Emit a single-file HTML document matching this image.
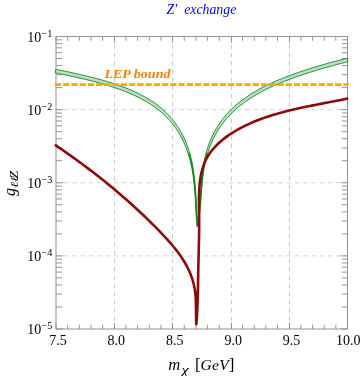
<!DOCTYPE html>
<html><head><meta charset="utf-8"><title>Z' exchange</title>
<style>
html,body{margin:0;padding:0;background:#fff;}
body{width:360px;height:376px;overflow:hidden;font-family:"Liberation Serif",serif;}
svg{display:block;will-change:transform;transform:translateZ(0);}
</style></head><body>
<svg width="360" height="376" viewBox="0 0 360 376">
<rect width="360" height="376" fill="#fff"/>
<g stroke="#d2d2d2" stroke-width="1" stroke-dasharray="4.12 4.12" fill="none">
<path d="M114.50 36.50V329.00" stroke="#bebebe" stroke-width="0.85"/>
<path d="M172.50 36.50V329.00" stroke="#bebebe" stroke-width="0.85"/>
<path d="M231.50 36.50V329.00" stroke="#bebebe" stroke-width="0.85"/>
<path d="M289.50 36.50V329.00" stroke="#bebebe" stroke-width="0.85"/>
<path d="M56.00 109.62H347.50"/>
<path d="M56.00 182.75H347.50"/>
<path d="M56.00 255.88H347.50"/>
</g>
<path d="M56.00 329.00v-6.20M56.00 36.50v6.20M67.66 329.00v-4.30M67.66 36.50v4.30M79.32 329.00v-4.30M79.32 36.50v4.30M90.98 329.00v-4.30M90.98 36.50v4.30M102.64 329.00v-4.30M102.64 36.50v4.30M114.50 329.00v-6.20M114.50 36.50v6.20M125.96 329.00v-4.30M125.96 36.50v4.30M137.62 329.00v-4.30M137.62 36.50v4.30M149.28 329.00v-4.30M149.28 36.50v4.30M160.94 329.00v-4.30M160.94 36.50v4.30M172.50 329.00v-6.20M172.50 36.50v6.20M184.26 329.00v-4.30M184.26 36.50v4.30M195.92 329.00v-4.30M195.92 36.50v4.30M207.58 329.00v-4.30M207.58 36.50v4.30M219.24 329.00v-4.30M219.24 36.50v4.30M231.50 329.00v-6.20M231.50 36.50v6.20M242.56 329.00v-4.30M242.56 36.50v4.30M254.22 329.00v-4.30M254.22 36.50v4.30M265.88 329.00v-4.30M265.88 36.50v4.30M277.54 329.00v-4.30M277.54 36.50v4.30M289.50 329.00v-6.20M289.50 36.50v6.20M300.86 329.00v-4.30M300.86 36.50v4.30M312.52 329.00v-4.30M312.52 36.50v4.30M324.18 329.00v-4.30M324.18 36.50v4.30M335.84 329.00v-4.30M335.84 36.50v4.30M347.50 329.00v-6.20M347.50 36.50v6.20M56.00 36.50h7.20M347.50 36.50h-6.80M56.00 87.61h6.10M347.50 87.61h-5.60M56.00 74.74h6.10M347.50 74.74h-5.60M56.00 65.60h6.10M347.50 65.60h-5.60M56.00 58.51h6.10M347.50 58.51h-5.60M56.00 52.72h6.10M347.50 52.72h-5.60M56.00 47.83h6.10M347.50 47.83h-5.60M56.00 43.59h6.10M347.50 43.59h-5.60M56.00 39.85h6.10M347.50 39.85h-5.60M56.00 109.62h7.20M347.50 109.62h-6.80M56.00 160.74h6.10M347.50 160.74h-5.60M56.00 147.86h6.10M347.50 147.86h-5.60M56.00 138.72h6.10M347.50 138.72h-5.60M56.00 131.64h6.10M347.50 131.64h-5.60M56.00 125.85h6.10M347.50 125.85h-5.60M56.00 120.95h6.10M347.50 120.95h-5.60M56.00 116.71h6.10M347.50 116.71h-5.60M56.00 112.97h6.10M347.50 112.97h-5.60M56.00 182.75h7.20M347.50 182.75h-6.80M56.00 233.86h6.10M347.50 233.86h-5.60M56.00 220.99h6.10M347.50 220.99h-5.60M56.00 211.85h6.10M347.50 211.85h-5.60M56.00 204.76h6.10M347.50 204.76h-5.60M56.00 198.97h6.10M347.50 198.97h-5.60M56.00 194.08h6.10M347.50 194.08h-5.60M56.00 189.84h6.10M347.50 189.84h-5.60M56.00 186.10h6.10M347.50 186.10h-5.60M56.00 255.88h7.20M347.50 255.88h-6.80M56.00 306.99h6.10M347.50 306.99h-5.60M56.00 294.11h6.10M347.50 294.11h-5.60M56.00 284.97h6.10M347.50 284.97h-5.60M56.00 277.89h6.10M347.50 277.89h-5.60M56.00 272.10h6.10M347.50 272.10h-5.60M56.00 267.20h6.10M347.50 267.20h-5.60M56.00 262.96h6.10M347.50 262.96h-5.60M56.00 259.22h6.10M347.50 259.22h-5.60M56.00 329.00h7.20M347.50 329.00h-6.80" stroke="#828282" stroke-width="0.85" fill="none"/>
<rect x="56.00" y="36.50" width="291.50" height="292.50" fill="none" stroke="#949494" stroke-width="1"/>
<path d="M55.87 69.28C56.44 69.40 58.14 69.76 59.26 70.00C60.39 70.25 61.52 70.49 62.65 70.73C63.78 70.97 64.90 71.20 66.03 71.45C67.16 71.69 68.28 71.93 69.40 72.17C70.53 72.41 71.65 72.65 72.77 72.90C73.90 73.14 75.02 73.39 76.14 73.64C77.26 73.89 78.38 74.14 79.50 74.39C80.61 74.65 81.73 74.90 82.85 75.16C83.97 75.42 85.08 75.68 86.20 75.95C87.31 76.21 88.43 76.48 89.54 76.76C90.66 77.03 91.77 77.31 92.88 77.59C93.99 77.87 95.10 78.16 96.21 78.45C97.32 78.75 98.43 79.04 99.54 79.35C100.65 79.65 101.76 79.96 102.87 80.28C103.97 80.59 105.08 80.91 106.18 81.24C107.29 81.57 108.39 81.91 109.50 82.25C110.60 82.59 111.70 82.94 112.81 83.30C113.91 83.66 115.01 84.02 116.11 84.40C117.21 84.77 118.31 85.15 119.40 85.55C120.50 85.94 121.60 86.34 122.69 86.75C123.78 87.16 124.87 87.58 125.95 88.01C127.04 88.43 128.12 88.87 129.20 89.32C130.27 89.77 131.34 90.23 132.41 90.70C133.47 91.17 134.53 91.65 135.59 92.15C136.64 92.64 137.69 93.14 138.73 93.66C139.77 94.18 140.80 94.71 141.83 95.25C142.85 95.79 143.87 96.34 144.87 96.91C145.88 97.47 146.88 98.05 147.86 98.65C148.85 99.24 149.83 99.85 150.80 100.47C151.76 101.09 152.72 101.72 153.66 102.37C154.61 103.02 155.54 103.69 156.46 104.37C157.38 105.04 158.29 105.74 159.18 106.45C160.07 107.16 160.95 107.88 161.82 108.62C162.69 109.37 163.54 110.12 164.37 110.90C165.21 111.67 166.03 112.46 166.84 113.27C167.64 114.08 168.43 114.91 169.20 115.75C169.97 116.59 170.73 117.44 171.47 118.31C172.21 119.18 172.93 120.07 173.63 120.97C174.34 121.87 175.03 122.79 175.70 123.72C176.37 124.64 177.02 125.59 177.65 126.54C178.28 127.49 178.90 128.46 179.50 129.44C180.09 130.42 180.67 131.41 181.23 132.41C181.79 133.41 182.32 134.42 182.84 135.44C183.36 136.47 183.86 137.50 184.34 138.54C184.82 139.58 185.28 140.63 185.73 141.69C186.17 142.75 186.59 143.82 187.00 144.90C187.40 145.97 187.79 147.05 188.16 148.14C188.53 149.23 188.88 150.33 189.22 151.44C189.56 152.54 189.88 153.65 190.18 154.76C190.49 155.88 190.78 157.00 191.05 158.12C191.33 159.25 191.59 160.37 191.83 161.51C192.08 162.64 192.31 163.77 192.52 164.91C192.74 166.05 192.94 167.19 193.14 168.34C193.33 169.48 193.51 170.63 193.67 171.78C193.84 172.92 194.00 174.07 194.14 175.23C194.29 176.38 194.43 177.53 194.56 178.69C194.68 179.84 194.80 181.00 194.91 182.16C195.02 183.31 195.13 184.47 195.22 185.63C195.32 186.79 195.41 187.95 195.50 189.10C195.58 190.26 195.66 191.42 195.74 192.58C195.81 193.74 195.88 194.90 195.95 196.06C196.02 197.21 196.09 198.37 196.15 199.53C196.21 200.68 196.28 201.84 196.34 202.99C196.40 204.15 196.46 205.30 196.52 206.45C196.58 207.60 196.64 208.75 196.71 209.89C196.77 211.04 196.84 212.18 196.91 213.32C196.97 214.46 197.04 215.60 197.12 216.74C197.19 217.87 197.27 219.01 197.36 220.14C197.44 221.27 197.58 222.95 197.63 223.51L196.99 227.01C196.94 226.45 196.80 224.77 196.72 223.64C196.63 222.51 196.55 221.37 196.48 220.24C196.40 219.10 196.33 217.96 196.27 216.82C196.20 215.68 196.13 214.54 196.07 213.39C196.00 212.25 195.94 211.10 195.88 209.95C195.82 208.80 195.76 207.65 195.70 206.49C195.64 205.34 195.57 204.18 195.51 203.03C195.45 201.87 195.38 200.71 195.31 199.56C195.24 198.40 195.17 197.24 195.10 196.08C195.02 194.92 194.94 193.76 194.86 192.60C194.77 191.45 194.68 190.29 194.58 189.13C194.49 187.97 194.38 186.81 194.27 185.66C194.16 184.50 194.04 183.34 193.92 182.19C193.79 181.03 193.65 179.88 193.50 178.73C193.36 177.57 193.20 176.42 193.03 175.28C192.87 174.13 192.69 172.98 192.50 171.84C192.30 170.69 192.10 169.55 191.88 168.41C191.67 167.27 191.44 166.14 191.19 165.01C190.95 163.87 190.69 162.75 190.41 161.62C190.14 160.50 189.85 159.38 189.54 158.26C189.24 157.15 188.92 156.04 188.58 154.94C188.24 153.83 187.89 152.73 187.52 151.64C187.15 150.55 186.76 149.47 186.36 148.40C185.95 147.32 185.53 146.25 185.09 145.19C184.64 144.13 184.18 143.08 183.70 142.04C183.22 141.00 182.72 139.97 182.20 138.94C181.68 137.92 181.15 136.91 180.59 135.91C180.03 134.91 179.45 133.92 178.86 132.94C178.26 131.96 177.64 130.99 177.01 130.04C176.38 129.09 175.73 128.14 175.06 127.22C174.39 126.29 173.70 125.37 172.99 124.47C172.29 123.57 171.57 122.68 170.83 121.81C170.09 120.94 169.33 120.09 168.56 119.25C167.79 118.41 167.00 117.58 166.20 116.77C165.39 115.96 164.57 115.17 163.73 114.40C162.90 113.62 162.05 112.87 161.18 112.12C160.31 111.38 159.43 110.66 158.54 109.95C157.65 109.24 156.74 108.54 155.82 107.87C154.90 107.19 153.97 106.52 153.02 105.87C152.08 105.22 151.12 104.59 150.16 103.97C149.19 103.35 148.21 102.74 147.22 102.15C146.24 101.55 145.24 100.97 144.23 100.41C143.23 99.84 142.21 99.29 141.19 98.75C140.16 98.21 139.13 97.68 138.09 97.16C137.05 96.64 136.00 96.14 134.95 95.65C133.89 95.15 132.83 94.67 131.77 94.20C130.70 93.73 129.63 93.27 128.56 92.82C127.48 92.37 126.40 91.93 125.31 91.51C124.23 91.08 123.14 90.66 122.05 90.25C120.96 89.84 119.86 89.44 118.76 89.05C117.67 88.65 116.57 88.27 115.47 87.90C114.37 87.52 113.27 87.16 112.17 86.80C111.06 86.44 109.96 86.09 108.86 85.75C107.75 85.41 106.65 85.07 105.54 84.74C104.44 84.41 103.33 84.09 102.23 83.78C101.12 83.46 100.01 83.15 98.90 82.85C97.79 82.54 96.68 82.25 95.57 81.95C94.46 81.66 93.35 81.37 92.24 81.09C91.13 80.81 90.02 80.53 88.90 80.26C87.79 79.98 86.67 79.71 85.56 79.45C84.44 79.18 83.33 78.92 82.21 78.66C81.09 78.40 79.97 78.15 78.86 77.89C77.74 77.64 76.62 77.39 75.50 77.14C74.38 76.89 73.26 76.64 72.13 76.40C71.01 76.15 69.89 75.91 68.76 75.67C67.64 75.43 66.52 75.19 65.39 74.95C64.26 74.70 63.14 74.47 62.01 74.23C60.88 73.99 59.75 73.75 58.62 73.50C57.50 73.26 55.80 72.90 55.23 72.78Z" fill="#bae2c0"/>
<path d="M197.09 223.55C197.20 222.95 197.53 221.18 197.73 219.99C197.93 218.80 198.11 217.61 198.28 216.42C198.45 215.23 198.61 214.03 198.76 212.83C198.91 211.64 199.04 210.44 199.17 209.23C199.30 208.03 199.42 206.83 199.53 205.62C199.65 204.42 199.75 203.21 199.85 202.01C199.95 200.80 200.05 199.59 200.14 198.38C200.23 197.17 200.32 195.96 200.41 194.75C200.50 193.54 200.59 192.33 200.68 191.12C200.76 189.91 200.85 188.70 200.95 187.49C201.04 186.29 201.13 185.08 201.23 183.87C201.33 182.66 201.43 181.45 201.55 180.24C201.66 179.04 201.77 177.83 201.90 176.63C202.03 175.43 202.16 174.22 202.31 173.02C202.45 171.82 202.61 170.62 202.77 169.43C202.94 168.23 203.12 167.04 203.32 165.84C203.51 164.65 203.72 163.46 203.95 162.28C204.17 161.09 204.41 159.91 204.67 158.73C204.93 157.55 205.21 156.37 205.51 155.20C205.80 154.03 206.11 152.86 206.45 151.70C206.78 150.54 207.13 149.38 207.50 148.23C207.87 147.08 208.26 145.94 208.67 144.80C209.08 143.66 209.50 142.53 209.95 141.41C210.40 140.29 210.87 139.18 211.36 138.07C211.85 136.97 212.36 135.87 212.89 134.79C213.43 133.70 213.98 132.62 214.56 131.56C215.13 130.49 215.73 129.44 216.35 128.40C216.97 127.36 217.61 126.32 218.27 125.31C218.93 124.29 219.61 123.28 220.31 122.29C221.01 121.30 221.73 120.32 222.47 119.36C223.21 118.39 223.97 117.44 224.74 116.51C225.52 115.58 226.31 114.66 227.11 113.75C227.92 112.85 228.75 111.96 229.58 111.10C230.42 110.23 231.28 109.37 232.14 108.54C233.01 107.71 233.89 106.89 234.79 106.09C235.68 105.29 236.59 104.52 237.51 103.75C238.43 102.99 239.37 102.24 240.31 101.51C241.26 100.78 242.21 100.06 243.18 99.35C244.15 98.65 245.13 97.95 246.12 97.27C247.10 96.59 248.10 95.91 249.11 95.25C250.12 94.58 251.14 93.93 252.17 93.29C253.19 92.64 254.23 92.01 255.27 91.39C256.32 90.77 257.37 90.16 258.43 89.57C259.49 88.97 260.55 88.39 261.63 87.82C262.70 87.25 263.78 86.69 264.87 86.15C265.95 85.60 267.05 85.07 268.14 84.54C269.24 84.02 270.34 83.50 271.45 83.00C272.56 82.50 273.67 82.00 274.78 81.52C275.90 81.03 277.02 80.56 278.14 80.09C279.26 79.62 280.39 79.16 281.52 78.71C282.64 78.26 283.78 77.82 284.91 77.38C286.04 76.94 287.17 76.51 288.31 76.08C289.44 75.66 290.58 75.23 291.71 74.82C292.85 74.40 293.99 74.00 295.12 73.59C296.26 73.19 297.40 72.79 298.54 72.39C299.68 72.00 300.83 71.61 301.97 71.23C303.11 70.84 304.26 70.46 305.40 70.09C306.55 69.71 307.69 69.34 308.84 68.98C309.99 68.61 311.14 68.25 312.29 67.89C313.44 67.54 314.59 67.18 315.74 66.83C316.90 66.49 318.05 66.14 319.21 65.80C320.36 65.46 321.52 65.12 322.68 64.79C323.84 64.45 325.00 64.12 326.16 63.79C327.32 63.47 328.48 63.14 329.65 62.82C330.81 62.50 331.98 62.18 333.15 61.87C334.31 61.55 335.48 61.24 336.65 60.93C337.82 60.62 339.00 60.32 340.17 60.01C341.34 59.71 342.52 59.41 343.70 59.11C344.88 58.81 346.65 58.36 347.24 58.22L347.88 61.72C347.29 61.86 345.52 62.31 344.34 62.61C343.16 62.91 341.98 63.21 340.81 63.51C339.64 63.82 338.46 64.12 337.29 64.43C336.12 64.74 334.95 65.05 333.79 65.37C332.62 65.68 331.45 66.00 330.29 66.32C329.12 66.64 327.96 66.97 326.80 67.29C325.64 67.62 324.48 67.95 323.32 68.29C322.16 68.62 321.00 68.96 319.85 69.30C318.69 69.64 317.54 69.99 316.38 70.33C315.23 70.68 314.08 71.04 312.93 71.39C311.78 71.75 310.63 72.11 309.48 72.48C308.33 72.84 307.19 73.21 306.04 73.59C304.90 73.96 303.75 74.34 302.61 74.73C301.47 75.11 300.32 75.50 299.18 75.89C298.04 76.29 296.90 76.69 295.76 77.09C294.63 77.50 293.49 77.90 292.35 78.32C291.22 78.73 290.08 79.16 288.95 79.58C287.81 80.01 286.68 80.44 285.55 80.88C284.42 81.32 283.28 81.76 282.16 82.21C281.03 82.66 279.90 83.12 278.78 83.59C277.66 84.06 276.54 84.53 275.42 85.02C274.31 85.50 273.20 86.00 272.09 86.50C270.98 87.00 269.88 87.52 268.78 88.04C267.69 88.57 266.59 89.10 265.51 89.65C264.42 90.19 263.34 90.75 262.27 91.32C261.19 91.89 260.13 92.47 259.07 93.07C258.01 93.66 256.96 94.27 255.91 94.89C254.87 95.51 253.83 96.14 252.81 96.79C251.78 97.43 250.76 98.08 249.75 98.75C248.74 99.41 247.74 100.09 246.76 100.77C245.77 101.45 244.79 102.15 243.82 102.85C242.85 103.56 241.90 104.28 240.95 105.01C240.01 105.74 239.07 106.49 238.15 107.25C237.23 108.02 236.32 108.79 235.43 109.59C234.53 110.39 233.65 111.21 232.78 112.04C231.92 112.87 231.06 113.73 230.22 114.60C229.39 115.46 228.56 116.35 227.75 117.25C226.95 118.16 226.16 119.08 225.38 120.01C224.61 120.94 223.85 121.89 223.11 122.86C222.37 123.82 221.65 124.80 220.95 125.79C220.25 126.78 219.57 127.79 218.91 128.81C218.25 129.82 217.61 130.86 216.99 131.90C216.37 132.94 215.77 133.99 215.20 135.06C214.62 136.12 214.07 137.20 213.53 138.29C213.00 139.37 212.49 140.47 212.00 141.57C211.51 142.68 211.04 143.79 210.59 144.91C210.14 146.03 209.72 147.16 209.31 148.30C208.90 149.44 208.51 150.58 208.14 151.73C207.77 152.88 207.42 154.04 207.09 155.20C206.75 156.36 206.44 157.53 206.15 158.70C205.85 159.87 205.57 161.05 205.31 162.23C205.05 163.41 204.81 164.59 204.59 165.78C204.36 166.96 204.15 168.15 203.96 169.34C203.76 170.54 203.58 171.73 203.41 172.93C203.25 174.12 203.09 175.32 202.95 176.52C202.80 177.72 202.67 178.93 202.54 180.13C202.41 181.33 202.30 182.54 202.19 183.74C202.07 184.95 201.97 186.16 201.87 187.37C201.77 188.58 201.68 189.79 201.59 190.99C201.49 192.20 201.40 193.41 201.32 194.62C201.23 195.83 201.14 197.04 201.05 198.25C200.96 199.46 200.87 200.67 200.78 201.88C200.69 203.09 200.59 204.30 200.49 205.51C200.39 206.71 200.29 207.92 200.17 209.12C200.06 210.33 199.94 211.53 199.81 212.73C199.68 213.94 199.55 215.14 199.40 216.33C199.25 217.53 199.09 218.73 198.92 219.92C198.75 221.11 198.57 222.30 198.37 223.49C198.17 224.68 197.84 226.45 197.73 227.05Z" fill="#bae2c0"/>
<path d="M55.87 69.28C56.44 69.40 58.14 69.76 59.26 70.00C60.39 70.25 61.52 70.49 62.65 70.73C63.78 70.97 64.90 71.20 66.03 71.45C67.16 71.69 68.28 71.93 69.40 72.17C70.53 72.41 71.65 72.65 72.77 72.90C73.90 73.14 75.02 73.39 76.14 73.64C77.26 73.89 78.38 74.14 79.50 74.39C80.61 74.65 81.73 74.90 82.85 75.16C83.97 75.42 85.08 75.68 86.20 75.95C87.31 76.21 88.43 76.48 89.54 76.76C90.66 77.03 91.77 77.31 92.88 77.59C93.99 77.87 95.10 78.16 96.21 78.45C97.32 78.75 98.43 79.04 99.54 79.35C100.65 79.65 101.76 79.96 102.87 80.28C103.97 80.59 105.08 80.91 106.18 81.24C107.29 81.57 108.39 81.91 109.50 82.25C110.60 82.59 111.70 82.94 112.81 83.30C113.91 83.66 115.01 84.02 116.11 84.40C117.21 84.77 118.31 85.15 119.40 85.55C120.50 85.94 121.60 86.34 122.69 86.75C123.78 87.16 124.87 87.58 125.95 88.01C127.04 88.43 128.12 88.87 129.20 89.32C130.27 89.77 131.34 90.23 132.41 90.70C133.47 91.17 134.53 91.65 135.59 92.15C136.64 92.64 137.69 93.14 138.73 93.66C139.77 94.18 140.80 94.71 141.83 95.25C142.85 95.79 143.87 96.34 144.87 96.91C145.88 97.47 146.88 98.05 147.86 98.65C148.85 99.24 149.83 99.85 150.80 100.47C151.76 101.09 152.72 101.72 153.66 102.37C154.61 103.02 155.54 103.69 156.46 104.37C157.38 105.04 158.29 105.74 159.18 106.45C160.07 107.16 160.95 107.88 161.82 108.62C162.69 109.37 163.54 110.12 164.37 110.90C165.21 111.67 166.03 112.46 166.84 113.27C167.64 114.08 168.43 114.91 169.20 115.75C169.97 116.59 170.73 117.44 171.47 118.31C172.21 119.18 172.93 120.07 173.63 120.97C174.34 121.87 175.03 122.79 175.70 123.72C176.37 124.64 177.02 125.59 177.65 126.54C178.28 127.49 178.90 128.46 179.50 129.44C180.09 130.42 180.67 131.41 181.23 132.41C181.79 133.41 182.32 134.42 182.84 135.44C183.36 136.47 183.86 137.50 184.34 138.54C184.82 139.58 185.28 140.63 185.73 141.69C186.17 142.75 186.59 143.82 187.00 144.90C187.40 145.97 187.79 147.05 188.16 148.14C188.53 149.23 188.88 150.33 189.22 151.44C189.56 152.54 189.88 153.65 190.18 154.76C190.49 155.88 190.78 157.00 191.05 158.12C191.33 159.25 191.59 160.37 191.83 161.51C192.08 162.64 192.31 163.77 192.52 164.91C192.74 166.05 192.94 167.19 193.14 168.34C193.33 169.48 193.51 170.63 193.67 171.78C193.84 172.92 194.00 174.07 194.14 175.23C194.29 176.38 194.43 177.53 194.56 178.69C194.68 179.84 194.80 181.00 194.91 182.16C195.02 183.31 195.13 184.47 195.22 185.63C195.32 186.79 195.41 187.95 195.50 189.10C195.58 190.26 195.66 191.42 195.74 192.58C195.81 193.74 195.88 194.90 195.95 196.06C196.02 197.21 196.09 198.37 196.15 199.53C196.21 200.68 196.28 201.84 196.34 202.99C196.40 204.15 196.46 205.30 196.52 206.45C196.58 207.60 196.64 208.75 196.71 209.89C196.77 211.04 196.84 212.18 196.91 213.32C196.97 214.46 197.04 215.60 197.12 216.74C197.19 217.87 197.27 219.01 197.36 220.14C197.44 221.27 197.58 222.95 197.63 223.51" fill="none" stroke="#0a7d1e" stroke-width="0.85"/>
<path d="M55.23 72.78C55.80 72.90 57.50 73.26 58.62 73.50C59.75 73.75 60.88 73.99 62.01 74.23C63.14 74.47 64.26 74.70 65.39 74.95C66.52 75.19 67.64 75.43 68.76 75.67C69.89 75.91 71.01 76.15 72.13 76.40C73.26 76.64 74.38 76.89 75.50 77.14C76.62 77.39 77.74 77.64 78.86 77.89C79.97 78.15 81.09 78.40 82.21 78.66C83.33 78.92 84.44 79.18 85.56 79.45C86.67 79.71 87.79 79.98 88.90 80.26C90.02 80.53 91.13 80.81 92.24 81.09C93.35 81.37 94.46 81.66 95.57 81.95C96.68 82.25 97.79 82.54 98.90 82.85C100.01 83.15 101.12 83.46 102.23 83.78C103.33 84.09 104.44 84.41 105.54 84.74C106.65 85.07 107.75 85.41 108.86 85.75C109.96 86.09 111.06 86.44 112.17 86.80C113.27 87.16 114.37 87.52 115.47 87.90C116.57 88.27 117.67 88.65 118.76 89.05C119.86 89.44 120.96 89.84 122.05 90.25C123.14 90.66 124.23 91.08 125.31 91.51C126.40 91.93 127.48 92.37 128.56 92.82C129.63 93.27 130.70 93.73 131.77 94.20C132.83 94.67 133.89 95.15 134.95 95.65C136.00 96.14 137.05 96.64 138.09 97.16C139.13 97.68 140.16 98.21 141.19 98.75C142.21 99.29 143.23 99.84 144.23 100.41C145.24 100.97 146.24 101.55 147.22 102.15C148.21 102.74 149.19 103.35 150.16 103.97C151.12 104.59 152.08 105.22 153.02 105.87C153.97 106.52 154.90 107.19 155.82 107.87C156.74 108.54 157.65 109.24 158.54 109.95C159.43 110.66 160.31 111.38 161.18 112.12C162.05 112.87 162.90 113.62 163.73 114.40C164.57 115.17 165.39 115.96 166.20 116.77C167.00 117.58 167.79 118.41 168.56 119.25C169.33 120.09 170.09 120.94 170.83 121.81C171.57 122.68 172.29 123.57 172.99 124.47C173.70 125.37 174.39 126.29 175.06 127.22C175.73 128.14 176.38 129.09 177.01 130.04C177.64 130.99 178.26 131.96 178.86 132.94C179.45 133.92 180.03 134.91 180.59 135.91C181.15 136.91 181.68 137.92 182.20 138.94C182.72 139.97 183.22 141.00 183.70 142.04C184.18 143.08 184.64 144.13 185.09 145.19C185.53 146.25 185.95 147.32 186.36 148.40C186.76 149.47 187.15 150.55 187.52 151.64C187.89 152.73 188.24 153.83 188.58 154.94C188.92 156.04 189.24 157.15 189.54 158.26C189.85 159.38 190.14 160.50 190.41 161.62C190.69 162.75 190.95 163.87 191.19 165.01C191.44 166.14 191.67 167.27 191.88 168.41C192.10 169.55 192.30 170.69 192.50 171.84C192.69 172.98 192.87 174.13 193.03 175.28C193.20 176.42 193.36 177.57 193.50 178.73C193.65 179.88 193.79 181.03 193.92 182.19C194.04 183.34 194.16 184.50 194.27 185.66C194.38 186.81 194.49 187.97 194.58 189.13C194.68 190.29 194.77 191.45 194.86 192.60C194.94 193.76 195.02 194.92 195.10 196.08C195.17 197.24 195.24 198.40 195.31 199.56C195.38 200.71 195.45 201.87 195.51 203.03C195.57 204.18 195.64 205.34 195.70 206.49C195.76 207.65 195.82 208.80 195.88 209.95C195.94 211.10 196.00 212.25 196.07 213.39C196.13 214.54 196.20 215.68 196.27 216.82C196.33 217.96 196.40 219.10 196.48 220.24C196.55 221.37 196.63 222.51 196.72 223.64C196.80 224.77 196.94 226.45 196.99 227.01" fill="none" stroke="#0a7d1e" stroke-width="0.85"/>
<path d="M197.09 223.55C197.20 222.95 197.53 221.18 197.73 219.99C197.93 218.80 198.11 217.61 198.28 216.42C198.45 215.23 198.61 214.03 198.76 212.83C198.91 211.64 199.04 210.44 199.17 209.23C199.30 208.03 199.42 206.83 199.53 205.62C199.65 204.42 199.75 203.21 199.85 202.01C199.95 200.80 200.05 199.59 200.14 198.38C200.23 197.17 200.32 195.96 200.41 194.75C200.50 193.54 200.59 192.33 200.68 191.12C200.76 189.91 200.85 188.70 200.95 187.49C201.04 186.29 201.13 185.08 201.23 183.87C201.33 182.66 201.43 181.45 201.55 180.24C201.66 179.04 201.77 177.83 201.90 176.63C202.03 175.43 202.16 174.22 202.31 173.02C202.45 171.82 202.61 170.62 202.77 169.43C202.94 168.23 203.12 167.04 203.32 165.84C203.51 164.65 203.72 163.46 203.95 162.28C204.17 161.09 204.41 159.91 204.67 158.73C204.93 157.55 205.21 156.37 205.51 155.20C205.80 154.03 206.11 152.86 206.45 151.70C206.78 150.54 207.13 149.38 207.50 148.23C207.87 147.08 208.26 145.94 208.67 144.80C209.08 143.66 209.50 142.53 209.95 141.41C210.40 140.29 210.87 139.18 211.36 138.07C211.85 136.97 212.36 135.87 212.89 134.79C213.43 133.70 213.98 132.62 214.56 131.56C215.13 130.49 215.73 129.44 216.35 128.40C216.97 127.36 217.61 126.32 218.27 125.31C218.93 124.29 219.61 123.28 220.31 122.29C221.01 121.30 221.73 120.32 222.47 119.36C223.21 118.39 223.97 117.44 224.74 116.51C225.52 115.58 226.31 114.66 227.11 113.75C227.92 112.85 228.75 111.96 229.58 111.10C230.42 110.23 231.28 109.37 232.14 108.54C233.01 107.71 233.89 106.89 234.79 106.09C235.68 105.29 236.59 104.52 237.51 103.75C238.43 102.99 239.37 102.24 240.31 101.51C241.26 100.78 242.21 100.06 243.18 99.35C244.15 98.65 245.13 97.95 246.12 97.27C247.10 96.59 248.10 95.91 249.11 95.25C250.12 94.58 251.14 93.93 252.17 93.29C253.19 92.64 254.23 92.01 255.27 91.39C256.32 90.77 257.37 90.16 258.43 89.57C259.49 88.97 260.55 88.39 261.63 87.82C262.70 87.25 263.78 86.69 264.87 86.15C265.95 85.60 267.05 85.07 268.14 84.54C269.24 84.02 270.34 83.50 271.45 83.00C272.56 82.50 273.67 82.00 274.78 81.52C275.90 81.03 277.02 80.56 278.14 80.09C279.26 79.62 280.39 79.16 281.52 78.71C282.64 78.26 283.78 77.82 284.91 77.38C286.04 76.94 287.17 76.51 288.31 76.08C289.44 75.66 290.58 75.23 291.71 74.82C292.85 74.40 293.99 74.00 295.12 73.59C296.26 73.19 297.40 72.79 298.54 72.39C299.68 72.00 300.83 71.61 301.97 71.23C303.11 70.84 304.26 70.46 305.40 70.09C306.55 69.71 307.69 69.34 308.84 68.98C309.99 68.61 311.14 68.25 312.29 67.89C313.44 67.54 314.59 67.18 315.74 66.83C316.90 66.49 318.05 66.14 319.21 65.80C320.36 65.46 321.52 65.12 322.68 64.79C323.84 64.45 325.00 64.12 326.16 63.79C327.32 63.47 328.48 63.14 329.65 62.82C330.81 62.50 331.98 62.18 333.15 61.87C334.31 61.55 335.48 61.24 336.65 60.93C337.82 60.62 339.00 60.32 340.17 60.01C341.34 59.71 342.52 59.41 343.70 59.11C344.88 58.81 346.65 58.36 347.24 58.22" fill="none" stroke="#0a7d1e" stroke-width="0.85"/>
<path d="M197.73 227.05C197.84 226.45 198.17 224.68 198.37 223.49C198.57 222.30 198.75 221.11 198.92 219.92C199.09 218.73 199.25 217.53 199.40 216.33C199.55 215.14 199.68 213.94 199.81 212.73C199.94 211.53 200.06 210.33 200.17 209.12C200.29 207.92 200.39 206.71 200.49 205.51C200.59 204.30 200.69 203.09 200.78 201.88C200.87 200.67 200.96 199.46 201.05 198.25C201.14 197.04 201.23 195.83 201.32 194.62C201.40 193.41 201.49 192.20 201.59 190.99C201.68 189.79 201.77 188.58 201.87 187.37C201.97 186.16 202.07 184.95 202.19 183.74C202.30 182.54 202.41 181.33 202.54 180.13C202.67 178.93 202.80 177.72 202.95 176.52C203.09 175.32 203.25 174.12 203.41 172.93C203.58 171.73 203.76 170.54 203.96 169.34C204.15 168.15 204.36 166.96 204.59 165.78C204.81 164.59 205.05 163.41 205.31 162.23C205.57 161.05 205.85 159.87 206.15 158.70C206.44 157.53 206.75 156.36 207.09 155.20C207.42 154.04 207.77 152.88 208.14 151.73C208.51 150.58 208.90 149.44 209.31 148.30C209.72 147.16 210.14 146.03 210.59 144.91C211.04 143.79 211.51 142.68 212.00 141.57C212.49 140.47 213.00 139.37 213.53 138.29C214.07 137.20 214.62 136.12 215.20 135.06C215.77 133.99 216.37 132.94 216.99 131.90C217.61 130.86 218.25 129.82 218.91 128.81C219.57 127.79 220.25 126.78 220.95 125.79C221.65 124.80 222.37 123.82 223.11 122.86C223.85 121.89 224.61 120.94 225.38 120.01C226.16 119.08 226.95 118.16 227.75 117.25C228.56 116.35 229.39 115.46 230.22 114.60C231.06 113.73 231.92 112.87 232.78 112.04C233.65 111.21 234.53 110.39 235.43 109.59C236.32 108.79 237.23 108.02 238.15 107.25C239.07 106.49 240.01 105.74 240.95 105.01C241.90 104.28 242.85 103.56 243.82 102.85C244.79 102.15 245.77 101.45 246.76 100.77C247.74 100.09 248.74 99.41 249.75 98.75C250.76 98.08 251.78 97.43 252.81 96.79C253.83 96.14 254.87 95.51 255.91 94.89C256.96 94.27 258.01 93.66 259.07 93.07C260.13 92.47 261.19 91.89 262.27 91.32C263.34 90.75 264.42 90.19 265.51 89.65C266.59 89.10 267.69 88.57 268.78 88.04C269.88 87.52 270.98 87.00 272.09 86.50C273.20 86.00 274.31 85.50 275.42 85.02C276.54 84.53 277.66 84.06 278.78 83.59C279.90 83.12 281.03 82.66 282.16 82.21C283.28 81.76 284.42 81.32 285.55 80.88C286.68 80.44 287.81 80.01 288.95 79.58C290.08 79.16 291.22 78.73 292.35 78.32C293.49 77.90 294.63 77.50 295.76 77.09C296.90 76.69 298.04 76.29 299.18 75.89C300.32 75.50 301.47 75.11 302.61 74.73C303.75 74.34 304.90 73.96 306.04 73.59C307.19 73.21 308.33 72.84 309.48 72.48C310.63 72.11 311.78 71.75 312.93 71.39C314.08 71.04 315.23 70.68 316.38 70.33C317.54 69.99 318.69 69.64 319.85 69.30C321.00 68.96 322.16 68.62 323.32 68.29C324.48 67.95 325.64 67.62 326.80 67.29C327.96 66.97 329.12 66.64 330.29 66.32C331.45 66.00 332.62 65.68 333.79 65.37C334.95 65.05 336.12 64.74 337.29 64.43C338.46 64.12 339.64 63.82 340.81 63.51C341.98 63.21 343.16 62.91 344.34 62.61C345.52 62.31 347.29 61.86 347.88 61.72" fill="none" stroke="#0a7d1e" stroke-width="0.85"/>
<path d="M188.90 153.19C189.06 153.74 189.56 155.40 189.86 156.51C190.17 157.63 190.46 158.75 190.73 159.87C191.01 161.00 191.27 162.12 191.51 163.26C191.76 164.39 191.99 165.52 192.20 166.66C192.42 167.80 192.62 168.94 192.82 170.09C193.01 171.23 193.19 172.38 193.35 173.53C193.52 174.67 193.68 175.82 193.82 176.98C193.97 178.13 194.11 179.28 194.24 180.44C194.36 181.59 194.48 182.75 194.59 183.91C194.70 185.06 194.81 186.22 194.90 187.38C195.00 188.54 195.09 189.70 195.18 190.85C195.26 192.01 195.34 193.17 195.42 194.33C195.49 195.49 195.56 196.65 195.63 197.81C195.70 198.96 195.77 200.12 195.83 201.28C195.89 202.43 195.96 203.59 196.02 204.74C196.08 205.90 196.14 207.05 196.20 208.20C196.26 209.35 196.32 210.50 196.39 211.64C196.45 212.79 196.52 213.93 196.59 215.07C196.65 216.21 196.72 217.35 196.80 218.49C196.87 219.62 196.95 220.76 197.04 221.89C197.12 223.02 197.26 224.70 197.31 225.26" fill="none" stroke="#0a8414" stroke-width="1.15" stroke-linecap="round"/>
<path d="M206.77 153.45C206.61 154.03 206.12 155.78 205.83 156.95C205.53 158.12 205.25 159.30 204.99 160.48C204.73 161.66 204.49 162.84 204.27 164.03C204.04 165.21 203.83 166.40 203.64 167.59C203.44 168.79 203.26 169.98 203.09 171.18C202.93 172.37 202.77 173.57 202.63 174.77C202.48 175.97 202.35 177.18 202.22 178.38C202.09 179.58 201.98 180.79 201.87 181.99C201.75 183.20 201.65 184.41 201.55 185.62C201.45 186.83 201.36 188.04 201.27 189.24C201.17 190.45 201.08 191.66 201.00 192.87C200.91 194.08 200.82 195.29 200.73 196.50C200.64 197.71 200.55 198.92 200.46 200.13C200.37 201.34 200.27 202.55 200.17 203.76C200.07 204.96 199.97 206.17 199.85 207.37C199.74 208.58 199.62 209.78 199.49 210.98C199.36 212.19 199.23 213.39 199.08 214.58C198.93 215.78 198.77 216.98 198.60 218.17C198.43 219.36 198.25 220.55 198.05 221.74C197.85 222.93 197.52 224.70 197.41 225.30" fill="none" stroke="#0a8414" stroke-width="1.15" stroke-linecap="round"/>
<path d="M55.87 69.28L55.23 72.78M347.24 58.22L347.88 61.72" fill="none" stroke="#0a7d1e" stroke-width="0.85"/>
<path d="M55.0 84.70H348.6" stroke="#ffa400" stroke-width="2.8" stroke-dasharray="6.30 1.94" stroke-dashoffset="0.10" fill="none"/>
<path d="M54.81 144.70C54.92 144.78 54.83 144.71 55.51 145.18C56.19 145.64 57.77 146.71 58.89 147.48C60.02 148.25 61.14 149.02 62.26 149.80C63.38 150.57 64.50 151.35 65.61 152.13C66.73 152.91 67.84 153.69 68.95 154.47C70.06 155.26 71.16 156.04 72.27 156.83C73.37 157.62 74.48 158.41 75.57 159.21C76.67 160.00 77.77 160.80 78.86 161.60C79.96 162.40 81.05 163.20 82.14 164.01C83.23 164.81 84.31 165.62 85.39 166.43C86.48 167.24 87.56 168.06 88.64 168.87C89.71 169.69 90.79 170.51 91.86 171.33C92.93 172.15 94.00 172.98 95.07 173.81C96.14 174.63 97.20 175.46 98.26 176.30C99.33 177.13 100.38 177.97 101.44 178.81C102.50 179.65 103.55 180.49 104.60 181.34C105.65 182.18 106.70 183.03 107.75 183.89C108.79 184.74 109.84 185.59 110.88 186.45C111.92 187.31 112.95 188.17 113.99 189.04C115.02 189.91 116.06 190.77 117.08 191.65C118.11 192.52 119.14 193.39 120.16 194.27C121.19 195.15 122.21 196.03 123.23 196.92C124.25 197.81 125.26 198.69 126.28 199.59C127.29 200.48 128.30 201.38 129.31 202.28C130.31 203.18 131.32 204.08 132.32 204.99C133.32 205.89 134.32 206.80 135.32 207.72C136.32 208.63 137.31 209.55 138.30 210.47C139.29 211.39 140.28 212.32 141.27 213.25C142.25 214.18 143.23 215.11 144.21 216.05C145.19 216.98 146.17 217.92 147.15 218.87C148.12 219.81 149.09 220.76 150.06 221.71C151.03 222.67 152.00 223.62 152.96 224.58C153.92 225.54 154.88 226.51 155.84 227.48C156.80 228.45 157.75 229.42 158.71 230.40C159.66 231.37 160.61 232.35 161.55 233.34C162.50 234.33 163.44 235.32 164.37 236.31C165.30 237.31 166.23 238.31 167.14 239.32C168.06 240.33 168.96 241.35 169.86 242.37C170.75 243.39 171.64 244.42 172.51 245.46C173.38 246.50 174.23 247.55 175.08 248.61C175.92 249.66 176.74 250.73 177.55 251.81C178.36 252.88 179.15 253.97 179.92 255.06C180.69 256.16 181.44 257.27 182.17 258.38C182.90 259.50 183.60 260.63 184.29 261.77C184.97 262.91 185.63 264.05 186.26 265.22C186.89 266.38 187.50 267.55 188.08 268.73C188.65 269.92 189.20 271.11 189.72 272.32C190.24 273.52 190.73 274.74 191.19 275.97C191.65 277.20 192.08 278.44 192.47 279.68C192.86 280.93 193.22 282.19 193.55 283.46C193.87 284.73 194.16 286.01 194.41 287.30C194.66 288.59 194.88 289.88 195.06 291.19C195.24 292.50 195.38 293.81 195.49 295.14C195.61 296.46 195.70 297.80 195.77 299.14C195.84 300.48 195.88 301.83 195.91 303.19C195.95 304.55 195.96 305.92 195.98 307.29C196.00 308.66 196.00 310.05 196.01 311.44C196.02 312.82 196.02 314.22 196.04 315.62C196.06 317.03 196.08 318.44 196.12 319.85C196.16 321.27 196.19 324.33 196.29 324.12C196.40 323.91 196.61 320.43 196.74 318.59C196.87 316.75 196.99 314.92 197.09 313.08C197.20 311.25 197.29 309.41 197.37 307.57C197.45 305.74 197.53 303.90 197.59 302.06C197.66 300.23 197.71 298.39 197.76 296.55C197.81 294.72 197.86 292.88 197.90 291.05C197.94 289.21 197.97 287.37 198.01 285.54C198.04 283.70 198.07 281.87 198.10 280.03C198.13 278.20 198.16 276.36 198.19 274.53C198.22 272.69 198.25 270.86 198.29 269.02C198.32 267.19 198.36 265.35 198.41 263.52C198.45 261.69 198.49 259.85 198.54 258.02C198.58 256.19 198.63 254.36 198.68 252.52C198.72 250.69 198.77 248.86 198.81 247.03C198.85 245.20 198.90 243.37 198.94 241.54C198.97 239.71 199.01 237.88 199.04 236.05C199.07 234.22 199.10 232.39 199.12 230.56C199.14 228.73 199.15 226.91 199.16 225.08C199.16 223.25 199.16 221.43 199.15 219.60C199.14 217.78 199.12 215.95 199.09 214.13C199.07 212.30 199.03 210.48 199.00 208.65C198.98 206.82 198.95 204.99 198.94 203.16C198.93 201.32 198.93 199.48 198.95 197.63C198.98 195.78 199.02 193.93 199.11 192.07C199.19 190.21 199.29 188.33 199.45 186.46C199.60 184.59 199.79 182.71 200.03 180.86C200.28 179.00 200.57 177.14 200.92 175.32C201.28 173.50 201.68 171.69 202.16 169.92C202.65 168.15 203.19 166.41 203.82 164.72C204.45 163.03 205.15 161.38 205.94 159.78C206.72 158.18 207.60 156.64 208.55 155.15C209.49 153.65 210.52 152.21 211.61 150.81C212.69 149.41 213.86 148.07 215.07 146.76C216.28 145.45 217.56 144.19 218.88 142.98C220.20 141.76 221.58 140.58 222.99 139.45C224.40 138.31 225.86 137.22 227.35 136.16C228.83 135.10 230.36 134.09 231.90 133.10C233.45 132.12 235.03 131.17 236.61 130.25C238.20 129.34 239.81 128.46 241.43 127.60C243.05 126.75 244.69 125.93 246.34 125.14C247.99 124.35 249.65 123.59 251.33 122.85C253.01 122.12 254.70 121.41 256.40 120.73C258.10 120.05 259.82 119.39 261.54 118.76C263.27 118.13 265.00 117.52 266.75 116.93C268.49 116.34 270.25 115.78 272.01 115.23C273.77 114.68 275.54 114.16 277.32 113.65C279.10 113.14 280.88 112.65 282.67 112.17C284.46 111.69 286.26 111.23 288.06 110.79C289.86 110.34 291.66 109.91 293.47 109.49C295.28 109.07 297.09 108.66 298.90 108.27C300.72 107.87 302.53 107.48 304.35 107.10C306.17 106.72 307.98 106.35 309.80 105.98C311.62 105.62 313.43 105.26 315.25 104.91C317.06 104.55 318.88 104.20 320.69 103.86C322.50 103.51 324.31 103.16 326.11 102.82C327.91 102.47 329.71 102.13 331.51 101.79C333.30 101.44 335.09 101.09 336.88 100.74C338.66 100.39 340.44 100.04 342.20 99.68C343.97 99.32 346.47 98.80 347.49 98.59C348.50 98.38 348.15 98.45 348.29 98.43" fill="none" stroke="#8b0a0a" stroke-width="2.6" stroke-linejoin="round"/>
<g font-family="'Liberation Serif', serif" fill="#000">
<text x="166.6" y="13.6" font-size="13.8" font-style="italic" fill="#0000ff" xml:space="preserve">Z&#8242;  exchange</text>
<text x="104.4" y="78.3" font-size="13.2" transform="translate(104.4 0) scale(1.062 1) translate(-104.4 0)" font-style="italic" font-weight="bold" fill="#ff7f00">LEP bound</text>
<text x="27.2" y="41.80" font-size="14">10</text>
<text x="41.5" y="36.80" font-size="10.2">&#8722;1</text>
<text x="27.2" y="114.92" font-size="14">10</text>
<text x="41.5" y="109.92" font-size="10.2">&#8722;2</text>
<text x="27.2" y="188.05" font-size="14">10</text>
<text x="41.5" y="183.05" font-size="10.2">&#8722;3</text>
<text x="27.2" y="261.18" font-size="14">10</text>
<text x="41.5" y="256.18" font-size="10.2">&#8722;4</text>
<text x="27.2" y="334.30" font-size="14">10</text>
<text x="41.5" y="329.30" font-size="10.2">&#8722;5</text>
<text x="49.20" y="344.7" font-size="14">7.5</text>
<text x="107.60" y="344.7" font-size="14">8.0</text>
<text x="166.00" y="344.7" font-size="14">8.5</text>
<text x="224.40" y="344.7" font-size="14">9.0</text>
<text x="282.80" y="344.7" font-size="14">9.5</text>
<text x="336.00" y="344.7" font-size="14">10.0</text>
<text x="194.9" y="369.5" font-size="17">[</text>
<text x="228.8" y="369.5" font-size="17">]</text>
<g font-style="italic">
<text x="168.3" y="369.6" font-size="16.6">m</text>
<text x="181.4" y="373.8" font-size="12.5" transform="translate(181.4 0) scale(1.32 1) translate(-181.4 0)">&#967;</text>
<text x="200.4" y="369.6" font-size="15.6" letter-spacing="0.35">GeV</text>
<g transform="translate(14.5 196) rotate(-90)">
<text x="0" y="0" font-size="16">g</text>
<text x="7.9" y="3.4" font-size="10.5" transform="translate(7.9 0) scale(1.37 1) translate(-7.9 0)">&#8467;&#8467;</text>
<text x="17.2" y="3.4" font-size="13" transform="translate(17.2 0) scale(1.1 1) translate(-17.2 0)">Z</text>
</g></g></g>
</svg>
</body></html>
